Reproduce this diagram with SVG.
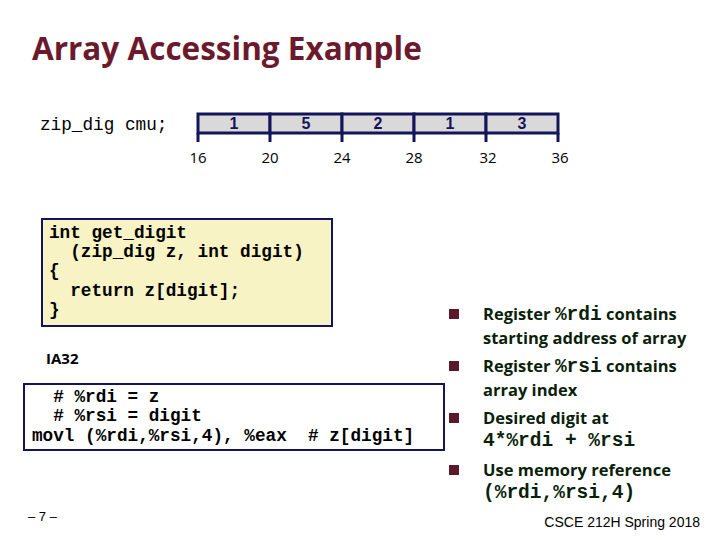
<svg xmlns="http://www.w3.org/2000/svg" width="720" height="540" viewBox="0 0 720 540">
<style>
.mono{font-family:"Liberation Mono",monospace;font-weight:bold;font-size:17.7px;fill:#000}
.cell{fill:#d9d9d9;stroke:#14145a;stroke-width:3}
.num{font-family:"Liberation Sans",sans-serif;font-weight:bold;font-size:16px;fill:#14145a;text-anchor:middle}
.addr{font-family:"Open Sans",sans-serif;font-size:15px;fill:#000;text-anchor:middle}
.tick{stroke:#14145a;stroke-width:3}
.bt{font-family:"Open Sans",sans-serif;font-weight:bold;font-size:16.5px;fill:#0a1f0a}
.bm{font-family:"Liberation Mono",monospace;font-weight:bold;font-size:19.5px;fill:#0a1f0a}
.bul{fill:#5a1a2a}
</style>
<rect width="720" height="540" fill="#fff"/>
<text x="32" y="60" font-family="Open Sans, sans-serif" font-weight="bold" font-size="31.5" fill="#6b1a2e">Array Accessing Example</text>
<text x="40" y="130" class="mono" style="font-weight:normal">zip_dig cmu;</text>
<g id="array">
<rect class="cell" x="198" y="114" width="72" height="19"/>
<rect class="cell" x="270" y="114" width="72" height="19"/>
<rect class="cell" x="342" y="114" width="72" height="19"/>
<rect class="cell" x="414" y="114" width="72" height="19"/>
<rect class="cell" x="486" y="114" width="72" height="19"/>
<text class="num" x="234" y="129">1</text><text class="num" x="306" y="129">5</text><text class="num" x="378" y="129">2</text><text class="num" x="450" y="129">1</text><text class="num" x="522" y="129">3</text>
<path class="tick" d="M198 133V142M270 133V142M342 133V142M414 133V142M486 133V142M558 133V142"/>
<text class="addr" x="198" y="163">16</text><text class="addr" x="270" y="163">20</text><text class="addr" x="342" y="163">24</text><text class="addr" x="414" y="163">28</text><text class="addr" x="488" y="163">32</text><text class="addr" x="560" y="163">36</text>
</g>
<g id="code">
<rect x="42" y="219" width="290" height="107" fill="#f7f3c4" stroke="#14145a" stroke-width="2"/>
<text class="mono" x="49" y="238">int get_digit</text>
<text class="mono" x="49" y="257" xml:space="preserve">  (zip_dig z, int digit)</text>
<text class="mono" x="49" y="276">{</text>
<text class="mono" x="49" y="296" xml:space="preserve">  return z[digit];</text>
<text class="mono" x="49" y="315">}</text>
</g>
<text x="46" y="364" font-family="Open Sans, sans-serif" font-weight="bold" font-size="15" fill="#000">IA32</text>
<g id="asm">
<rect x="24" y="384" width="420" height="66" fill="#fff" stroke="#14145a" stroke-width="2"/>
<text class="mono" x="32" y="402" xml:space="preserve">  # %rdi = z</text>
<text class="mono" x="32" y="421" xml:space="preserve">  # %rsi = digit</text>
<text class="mono" x="32" y="441" xml:space="preserve">movl (%rdi,%rsi,4), %eax  # z[digit]</text>
</g>
<g id="bullets">
<rect class="bul" x="449" y="309" width="10" height="10"/>
<rect class="bul" x="449" y="361" width="10" height="10"/>
<rect class="bul" x="449" y="413" width="10" height="10"/>
<rect class="bul" x="449" y="465" width="10" height="10"/>
<text class="bt" x="483" y="320">Register <tspan class="bm">%rdi</tspan> contains</text>
<text class="bt" x="483" y="344">starting address of array</text>
<text class="bt" x="483" y="372">Register <tspan class="bm">%rsi</tspan> contains</text>
<text class="bt" x="483" y="396">array index</text>
<text class="bt" x="483" y="424">Desired digit at</text>
<text class="bm" x="483" y="446">4*%rdi + %rsi</text>
<text class="bt" x="483" y="476">Use memory reference</text>
<text class="bm" x="483" y="498">(%rdi,%rsi,4)</text>
</g>
<text x="28" y="521" font-family="Liberation Sans, sans-serif" font-size="13" fill="#000">– 7 –</text>
<text x="700" y="527" text-anchor="end" font-family="Liberation Sans, sans-serif" font-size="14" fill="#000">CSCE 212H Spring 2018</text>
</svg>
